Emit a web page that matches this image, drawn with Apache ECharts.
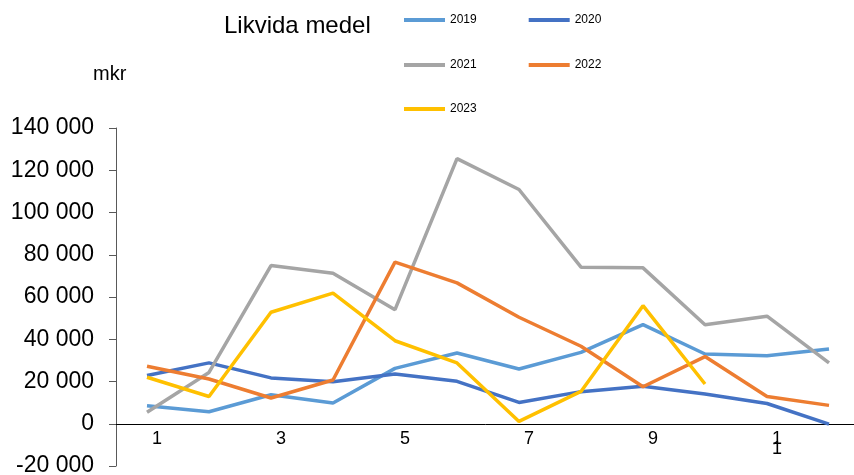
<!DOCTYPE html>
<html>
<head>
<meta charset="utf-8">
<script src="https://cdn.jsdelivr.net/npm/echarts@6/dist/echarts.min.js"></script>
<style>
  html, body { margin: 0; padding: 0; background: #fff; }
  #main { width: 854px; height: 475px; }
</style>
</head>
<body>
<div id="main"></div>
<script>
// months 1..12
const months = ['1', '2', '3', '4', '5', '6', '7', '8', '9', '10', '11', '12'];
const years = ['2019', '2020', '2021', '2022', '2023'];
const colors = ['#5B9BD5', '#4472C4', '#A5A5A5', '#ED7D31', '#FFC000'];

// likvida medel, mkr
const v2019 = [8500, 5700, 13700, 9800, 26200, 33500, 25900, 33800, 46900, 33000, 32200, 35400];
const v2020 = [22800, 28800, 21700, 19900, 23500, 20100, 10100, 15200, 17700, 14100, 9600, -200];
const v2021 = [5400, 24300, 74900, 71200, 54000, 125500, 110900, 74100, 73800, 46900, 50900, 28800];
const v2022 = [27200, 21200, 12200, 20700, 76500, 66700, 50400, 36700, 17500, 31800, 12900, 8700];
const v2023 = [22000, 12900, 52800, 61800, 39300, 28800, 1100, 15300, 55900, 18800, null, null];
const yearValues = [v2019, v2020, v2021, v2022, v2023];

const yMin = -20000, yMax = 140000;
const gridTop = 128, gridBottom = 9, chartH = 475;

const fmt = (v) => String(v).replace(/\B(?=(\d{3})+(?!\d))/g, ' ');

const chart = echarts.init(document.getElementById('main'));

// x axis sits on the zero line
const plotH = chartH - gridTop - gridBottom;
const zeroOffset = plotH * (0 - yMin) / (yMax - yMin);

const legendBase = {
  left: 404,
  padding: 0,
  icon: 'rect',
  itemWidth: 41,
  itemHeight: 4,
  itemGap: 52,
  textStyle: { fontFamily: 'Liberation Sans', fontSize: 12, color: '#000' }
};

const option = {
  animation: false,
  backgroundColor: '#fff',
  title: [
    {
      text: 'Likvida medel',
      left: 224, top: 14, padding: 0,
      textStyle: { fontFamily: 'Liberation Sans', fontSize: 24, fontWeight: 'normal', color: '#000' }
    },
    {
      text: 'mkr',
      left: 93, top: 64, padding: 0,
      textStyle: { fontFamily: 'Liberation Sans', fontSize: 20, fontWeight: 'normal', color: '#000' }
    }
  ],
  legend: [
    Object.assign({}, legendBase, { top: 14, data: ['2019', '2020'] }),
    Object.assign({}, legendBase, { top: 59, data: ['2021', '2022'] }),
    Object.assign({}, legendBase, { top: 103, data: ['2023'] })
  ],
  grid: { left: 116, right: -6, top: gridTop, bottom: gridBottom, containLabel: false, outerBoundsMode: 'none' },
  xAxis: {
    type: 'category',
    data: months,
    position: 'bottom',
    offset: -zeroOffset,
    axisLine: { onZero: false, lineStyle: { color: '#000', width: 1 } },
    axisTick: { length: 5, lineStyle: { color: '#000' } },
    axisLabel: {
      interval: 1,
      margin: 10,
      padding: [0, 0, 0, 20],
      lineHeight: 10,
      fontFamily: 'Liberation Sans',
      fontSize: 18,
      color: '#000',
      formatter: (v) => (v.length > 1 ? v.split('').join('\n') : v)
    },
    splitLine: { show: false }
  },
  yAxis: {
    type: 'value',
    min: yMin,
    max: yMax,
    interval: 20000,
    axisLine: { show: true, lineStyle: { color: '#595959' } },
    axisTick: { show: true, length: 7, lineStyle: { color: '#595959' } },
    axisLabel: {
      margin: 22,
      fontFamily: 'Liberation Sans',
      fontSize: 23,
      color: '#000',
      formatter: fmt
    },
    splitLine: { show: false }
  },
  series: years.map((y, i) => ({
    name: y,
    type: 'line',
    data: yearValues[i],
    showSymbol: false,
    symbol: 'none',
    color: colors[i],
    lineStyle: { width: 3.5, color: colors[i] }
  }))
};

chart.setOption(option);
</script>
</body>
</html>
